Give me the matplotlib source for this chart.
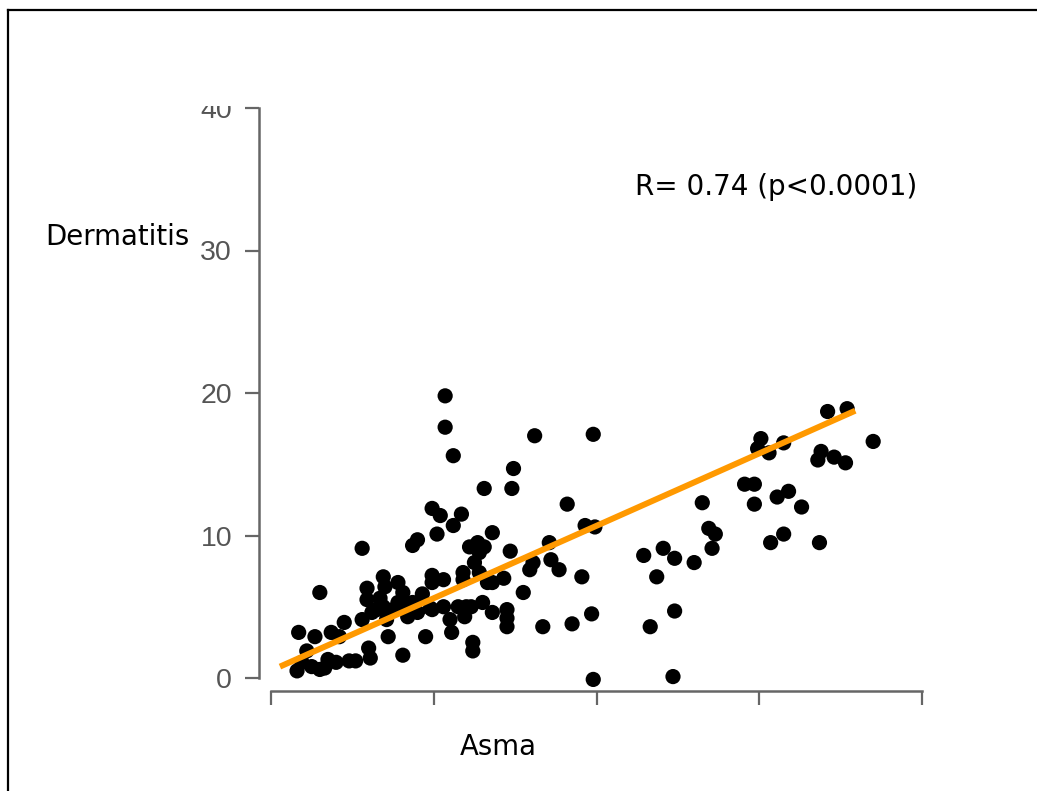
import matplotlib
matplotlib.use("Agg")
import matplotlib.pyplot as plt
from matplotlib.patches import Rectangle
from matplotlib.lines import Line2D
import numpy as np

# ---- data ----
asma = [1.6, 1.7, 1.9, 2.5, 2.7, 3.0, 3.3, 3.5, 3.7, 4.0, 4.2, 4.8, 5.2, 5.6, 5.6,
        5.9, 5.9, 6.0, 6.1, 6.2, 6.5, 6.7, 6.9, 7.0, 6.9, 7.1, 7.2, 7.8, 8.1, 7.8,
        8.2, 8.7, 8.4, 9.0, 8.1, 8.7, 9.0, 9.5, 9.8, 9.9, 9.9, 9.9, 9.9, 10.2, 10.4,
        10.6, 10.6, 10.7, 10.7, 11.0, 11.1, 11.2, 11.2, 11.5, 11.7, 11.8, 11.8, 11.9, 12.0, 12.2,
        12.3, 12.4, 12.4, 12.7, 12.8, 13.1, 12.8, 13.1, 13.0, 13.3, 13.6, 13.6, 13.6, 14.3, 14.5,
        14.5, 14.5, 14.7, 14.8, 14.9, 15.5, 15.9, 16.1, 16.2, 16.7, 17.1, 17.2, 17.7, 18.2, 18.5,
        19.1, 19.3, 19.7, 19.8, 19.9, 19.8, 22.9, 23.3, 23.7, 24.1, 24.8, 24.8, 24.7, 26.0, 26.5,
        26.9, 27.3, 27.1, 29.1, 29.7, 29.7, 29.9, 30.1, 30.6, 30.7, 31.1, 31.5, 31.5, 31.8, 32.6,
        33.6, 33.7, 33.8, 34.2, 34.6, 35.3, 35.4, 37.0,
        2.2, 4.5, 7.5, 9.3, 12.5, 3.0]
dermatitis = [0.5, 3.2, 1.1, 0.8, 2.9, 6.0, 0.7, 1.3, 3.2, 1.1, 2.9, 1.2, 1.2, 9.1, 4.1,
              5.5, 6.3, 2.1, 1.4, 4.6, 4.8, 5.6, 7.1, 6.4, 5.0, 4.1, 2.9, 6.7, 6.0, 5.3,
              5.1, 5.3, 4.3, 4.6, 1.6, 9.3, 9.7, 2.9, 4.9, 7.2, 6.7, 11.9, 4.8, 10.1, 11.4,
              6.9, 5.0, 19.8, 17.6, 4.1, 3.2, 10.7, 15.6, 5.0, 11.5, 7.4, 6.9, 4.3, 5.0, 9.2,
              5.0, 2.5, 1.9, 9.5, 8.8, 9.2, 7.4, 13.3, 5.3, 6.7, 10.2, 4.6, 6.7, 7.0, 4.8,
              4.2, 3.6, 8.9, 13.3, 14.7, 6.0, 7.6, 8.1, 17.0, 3.6, 9.5, 8.3, 7.6, 12.2, 3.8,
              7.1, 10.7, 4.5, 17.1, 10.6, -0.1, 8.6, 3.6, 7.1, 9.1, 8.4, 4.7, 0.1, 8.1, 12.3,
              10.5, 10.1, 9.1, 13.6, 13.6, 12.2, 16.1, 16.8, 15.8, 9.5, 12.7, 10.1, 16.5, 13.1, 12.0,
              15.3, 9.5, 15.9, 18.7, 15.5, 15.1, 18.9, 16.6,
              1.9, 3.9, 4.8, 5.9, 8.1, 0.6]

fit_x = [0.55, 35.9]
fit_slope = 0.508
fit_intercept = 0.52

y_ticks = [0, 10, 20, 30, 40]
x_ticks = [0, 10, 20, 30, 40]

annotation = "R= 0.74 (p<0.0001)"
x_label = "Asma"
y_label = "Dermatitis"

W, H = 1037, 791
fig = plt.figure(figsize=(W / 100, H / 100), dpi=100)
fig.patch.set_facecolor("white")

def fx(px):
    return px / W

def fy(py):
    return (H - py) / H

ax = fig.add_axes([fx(271), fy(678), fx(922) - fx(271), fy(108) - fy(678)])
ax.set_xlim(0, 40)
ax.set_ylim(0, 40)
ax.set_facecolor("none")

# points and fit line
ax.scatter(asma, dermatitis, s=120, c="black", edgecolors="none", zorder=3, clip_on=False)
fx_arr = np.array(fit_x)
ax.plot(fx_arr, fit_slope * fx_arr + fit_intercept, color="#FF9900", lw=4.3,
        solid_capstyle="butt", zorder=4, clip_on=False)

# spines
for s in ["top", "right"]:
    ax.spines[s].set_visible(False)
spine_col = "#666666"
for s in ["left", "bottom"]:
    ax.spines[s].set_position(("outward", 9))
    ax.spines[s].set_color(spine_col)
    ax.spines[s].set_linewidth(1.8)
    ax.spines[s].set_bounds(0, 40)

ax.set_yticks(y_ticks)
ax.set_yticklabels([str(t) for t in y_ticks], fontfamily="Liberation Sans",
                   fontsize=20.5, color="#555555")
ax.set_xticks(x_ticks)
ax.set_xticklabels([])
ax.tick_params(axis="both", direction="out", length=10, width=1.6, color=spine_col, pad=9)

# hide upper part of the "40" label (cropped in the reference)
fig.patches.append(Rectangle((fx(180), fy(106)), fx(70), fy(80) - fy(106),
                             transform=fig.transFigure, facecolor="white",
                             edgecolor="none", zorder=20))

# texts
fig.text(fx(45), fy(245), y_label, fontfamily="DejaVu Sans", fontsize=19.8,
         color="black", ha="left", va="baseline")
fig.text(fx(635), fy(195), annotation, fontfamily="DejaVu Sans", fontsize=20,
         color="black", ha="left", va="baseline")
fig.text(fx(498), fy(755), x_label, fontfamily="DejaVu Sans", fontsize=19.8,
         color="black", ha="center", va="baseline")

# outer frame (top and left edges visible)
fig.lines.append(Line2D([fx(8), fx(W)], [fy(10), fy(10)], transform=fig.transFigure,
                        color="black", lw=1.6))
fig.lines.append(Line2D([fx(8), fx(8)], [fy(10), fy(H)], transform=fig.transFigure,
                        color="black", lw=1.6))

fig.savefig("out.png", dpi=100)
